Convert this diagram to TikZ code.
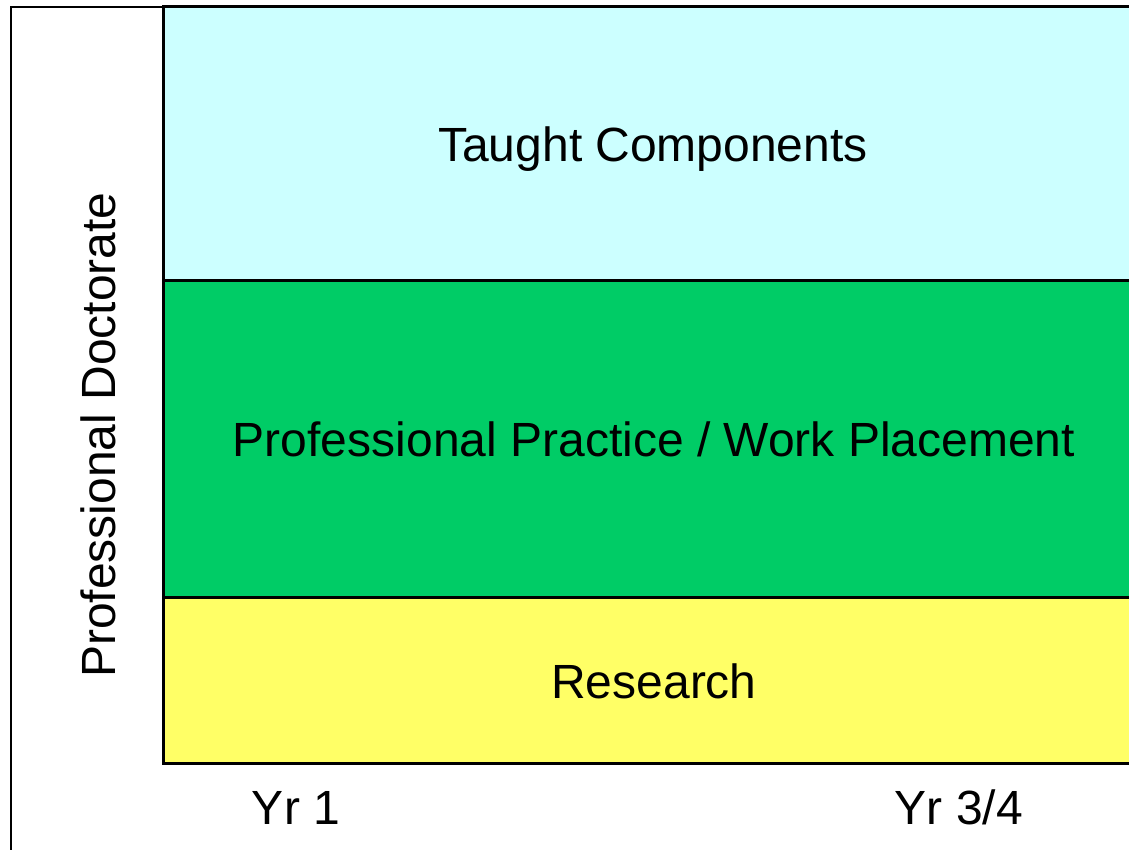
\documentclass[tikz,border=0pt]{standalone}
\usepackage{fontspec}
\setmainfont{Liberation Sans}
\definecolor{taught}{HTML}{CCFFFF}
\definecolor{practice}{HTML}{00CC66}
\definecolor{research}{HTML}{FFFF66}
\begin{document}
\begin{tikzpicture}[x=1pt,y=-1pt,
  band/.style={draw=black,line width=3pt},
  lbl/.style={font=\fontsize{48}{51}\selectfont,text=black,inner sep=0pt,anchor=base}]
\useasboundingbox (0,0) rectangle (1129,850);
\fill[white] (0,0) rectangle (1129,850);
% outer frame
\draw[line width=2pt] (1140,7) -- (11,7) -- (11,860);
% bands
\draw[band,fill=taught] (163,7) rectangle (1140,280);
\draw[band,fill=practice] (163,280) rectangle (1140,597);
\draw[band,fill=research] (163,597) rectangle (1140,763);
% labels
\node[lbl] (tc) at (653,162) {Taught Components};
\node[lbl] (pp) at (654,456) {Professional Practice / Work Placement};
\node[lbl] (rs) at (654,698) {Research};
\node[lbl] (y1) at (296,824) {Yr 1};
\node[lbl] (y3) at (959,824) {Yr 3/4};
\node[lbl,rotate=90] (pd) at (115,435) {Professional Doctorate};
\end{tikzpicture}
\end{document}
